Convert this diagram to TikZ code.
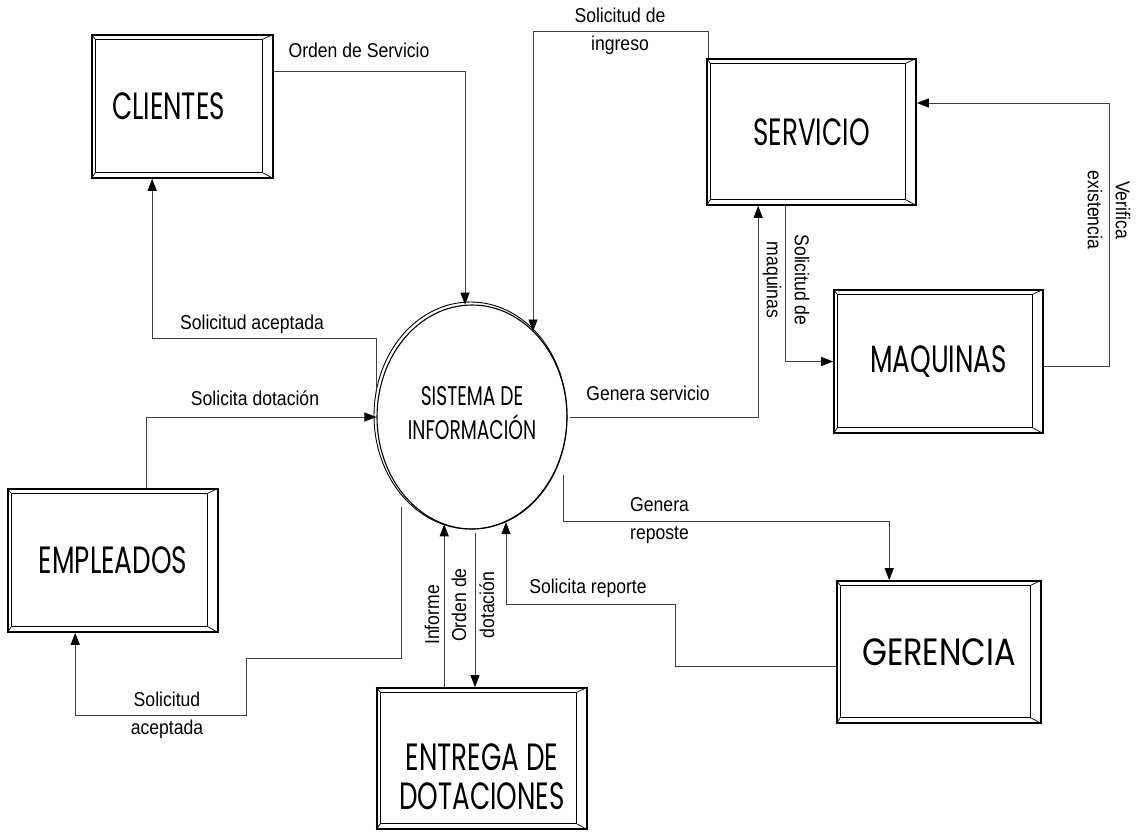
\documentclass[tikz,border=0pt]{standalone}
\usepackage{fontspec}
\newfontfamily\edgefont{Liberation Sans}[FakeStretch=0.88]
\newfontfamily\boxfont{Poppins}[FakeStretch=0.69]
\usetikzlibrary{arrows.meta,calc,shapes.geometric}
\newcommand\bevelframe[1]{%
  \draw[line width=1.2pt] ([shift={(4,5)}]#1.north west) rectangle ([shift={(-11,-6)}]#1.south east);
  \draw[line width=0.7pt] (#1.north west) -- ([shift={(4,5)}]#1.north west)
     (#1.north east) -- ([shift={(-11,5)}]#1.north east)
     (#1.south west) -- ([shift={(4,-6)}]#1.south west)
     (#1.south east) -- ([shift={(-11,-6)}]#1.south east);
}
\begin{document}
\begin{tikzpicture}[x=1pt,y=-1pt,
  ent/.style={draw=black, line width=1.6pt, rectangle, inner sep=0pt,
    font=\boxfont\fontsize{38}{39}\selectfont, align=center},
  flow/.style={draw=black!75, line width=0.9pt, -{Triangle[length=12pt,width=9pt,color=black]}},
  lab/.style={font=\edgefont\fontsize{20}{28}\selectfont, inner sep=1pt, align=center, text=black}
]
\useasboundingbox (0,0) rectangle (1139,831);

% entities
\node[ent, minimum width=181pt, minimum height=143pt] (clientes) at (182.5,106.5) {CLIENTES\hspace*{28pt}};
\node[ent, minimum width=209pt, minimum height=146pt] (servicio) at (811.5,132) {SERVICIO};
\node[ent, minimum width=209pt, minimum height=143pt] (maquinas) at (938.5,361.5) {MAQUINAS};
\node[ent, minimum width=210pt, minimum height=143pt] (empleados) at (113,560.5) {EMPLEADOS};
\node[ent, minimum width=210pt, minimum height=141pt] (entrega) at (482,758.5) {\raisebox{-30pt}[0pt][0pt]{\begin{tabular}{@{}c@{}}ENTREGA DE\\DOTACIONES\end{tabular}}};
\node[ent, minimum width=204pt, minimum height=142pt] (gerencia) at (939,652) {\scalebox{1.22}[1]{GERENCIA}};
\bevelframe{clientes}
\bevelframe{servicio}
\bevelframe{maquinas}
\bevelframe{empleados}
\bevelframe{entrega}
\bevelframe{gerencia}

% central process
\node[draw=black, line width=1.1pt, ellipse, minimum width=190pt, minimum height=224pt, inner sep=0pt,
  font=\boxfont\fontsize{27}{29}\selectfont, align=center] (si) at (472,417)
  {\begin{tabular}{@{}c@{}}SISTEMA DE\\INFORMACIÓN\end{tabular}};
\draw[line width=0.9pt] ([shift={(-1.5,-1.5)}]si.center) ellipse [x radius=96.5pt, y radius=113.5pt];

% coordinates for bends
\coordinate (a1) at (465,71);
\coordinate (b0) at (376,390);
\coordinate (b1) at (376,338);
\coordinate (d0) at (401,507);
\coordinate (d1) at (246,658);
\coordinate (d2) at (246,715);
\coordinate (e0) at ([shift={(68,0)}]entrega.north west);
\coordinate (f0) at ([shift={(3,3)}]si.south);
\coordinate (g1) at (675,604);
\coordinate (g2) at (506,604);
\coordinate (h0) at (563,475);
\coordinate (h1) at (563,521);
\coordinate (j1) at (533,31);
\coordinate (l1) at (1109,103);

% connectors
\draw[flow] ([shift={(0,-35.5)}]clientes.east) -- (a1) -- (a1 |- si.93.6);
\draw[flow] (b0) -- (b1) -| ([shift={(61,0)}]clientes.south west);
\draw[flow] ([shift={(139,0)}]empleados.north west) |- (si.west);
\draw[flow] (d0) |- (d1) -- (d2) -| ([shift={(68,0)}]empleados.south west);
\draw[flow] (e0) -- (e0 |- si.255.9);
\draw[flow] (f0) -- (f0 |- entrega.north);
\draw[flow] ([shift={(0,14)}]gerencia.west) -| (g1) -- (g2) -- (g2 |- si.288);
\draw[flow] (h0) -- (h1) -| ([shift={(53,0)}]gerencia.north west);
\draw[flow] ([shift={(2,0)}]si.east) -| ([shift={(52,0)}]servicio.south west);
\draw[flow] ([shift={(2,0)}]servicio.north west) |- (j1) -- (j1 |- si.54.6);
\draw[flow] ([shift={(79,0)}]servicio.south west) |- (maquinas.west);
\draw[flow] ([shift={(0,4.5)}]maquinas.east) -| (l1) -- (l1 -| servicio.east);

% labels
\node[lab] (t1) at (359,50) {Orden de Servicio};
\node[lab] (t2) at (252,324) {Solicitud aceptada};
\node[lab] (t3) at (255,398) {Solicita dotación};
\node[lab] (t4) at (167,715) {Solicitud\\aceptada};
\node[lab, rotate=90] (t5) at (432,615) {Informe};
\node[lab, rotate=90] (t6) at (473,605) {Orden de\\dotación};
\node[lab] (t7) at (588,588) {Solicita reporte};
\node[lab, align=left, anchor=west] (t8) at (629,521) {Genera\\reposte};
\node[lab] (t9) at (648,393) {Genera servicio};
\node[lab] (t10) at (620,31) {Solicitud de\\ingreso};
\node[lab, rotate=-90] (t11) at (786,280) {Solicitud de\\maquinas};
\node[lab, rotate=-90] (t12) at (1109,210) {Verifica\\existencia};
\end{tikzpicture}
\end{document}
